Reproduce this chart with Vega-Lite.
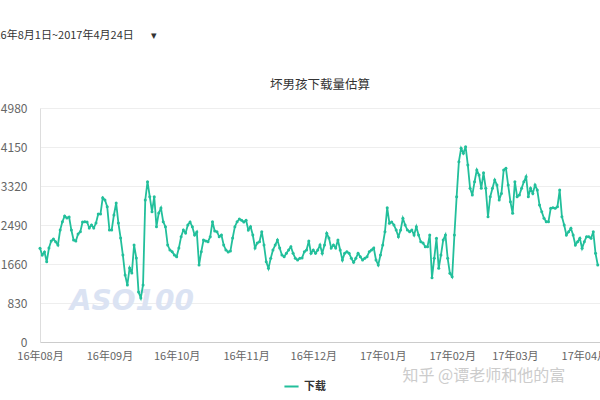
{
  "$schema": "https://vega.github.io/schema/vega-lite/v6.json",
  "width": 560,
  "height": 234,
  "autosize": {"type": "none"},
  "padding": {"left": 40, "top": 108, "right": 0, "bottom": 58},
  "background": "white",
  "title": {"text": "坏男孩下载量估算", "frame": "group", "anchor": "middle", "fontSize": 12.5, "fontWeight": "normal", "color": "#333333", "offset": 17, "dy": 79},
  "config": {
    "font": "Noto Sans CJK SC",
    "view": {"stroke": null}
  },
  "data": {"values": [
    {"date":"2016-08-01","downloads":1994},{"date":"2016-08-02","downloads":1851},{"date":"2016-08-03","downloads":1915},{"date":"2016-08-04","downloads":1709},{"date":"2016-08-05","downloads":2000},{"date":"2016-08-06","downloads":2150},{"date":"2016-08-07","downloads":2190},{"date":"2016-08-08","downloads":2135},{"date":"2016-08-09","downloads":2065},{"date":"2016-08-10","downloads":2383},{"date":"2016-08-11","downloads":2560},{"date":"2016-08-12","downloads":2680},{"date":"2016-08-13","downloads":2640},{"date":"2016-08-14","downloads":2660},{"date":"2016-08-15","downloads":2383},{"date":"2016-08-16","downloads":2170},{"date":"2016-08-17","downloads":2150},{"date":"2016-08-18","downloads":2300},{"date":"2016-08-19","downloads":2347},{"date":"2016-08-20","downloads":2553},{"date":"2016-08-21","downloads":2560},{"date":"2016-08-22","downloads":2553},{"date":"2016-08-23","downloads":2426},{"date":"2016-08-24","downloads":2490},{"date":"2016-08-25","downloads":2426},{"date":"2016-08-26","downloads":2532},{"date":"2016-08-27","downloads":2724},{"date":"2016-08-28","downloads":2724},{"date":"2016-08-29","downloads":3070},{"date":"2016-08-30","downloads":3022},{"date":"2016-08-31","downloads":2880},
    {"date":"2016-09-01","downloads":2383},{"date":"2016-09-02","downloads":2383},{"date":"2016-09-03","downloads":2703},{"date":"2016-09-04","downloads":2958},{"date":"2016-09-05","downloads":2532},{"date":"2016-09-06","downloads":2213},{"date":"2016-09-07","downloads":1851},{"date":"2016-09-08","downloads":1426},{"date":"2016-09-09","downloads":1213},{"date":"2016-09-10","downloads":1575},{"date":"2016-09-11","downloads":1468},{"date":"2016-09-12","downloads":2064},{"date":"2016-09-13","downloads":1788},{"date":"2016-09-14","downloads":1064},{"date":"2016-09-15","downloads":936},{"date":"2016-09-16","downloads":1213},{"date":"2016-09-17","downloads":3022},{"date":"2016-09-18","downloads":3411},{"date":"2016-09-19","downloads":3092},{"date":"2016-09-20","downloads":2773},{"date":"2016-09-21","downloads":3092},{"date":"2016-09-22","downloads":2454},{"date":"2016-09-23","downloads":2745},{"date":"2016-09-24","downloads":2851},{"date":"2016-09-25","downloads":2560},{"date":"2016-09-26","downloads":2454},{"date":"2016-09-27","downloads":2064},{"date":"2016-09-28","downloads":1958},{"date":"2016-09-29","downloads":1922},{"date":"2016-09-30","downloads":1851},
    {"date":"2016-10-01","downloads":1815},{"date":"2016-10-02","downloads":2000},{"date":"2016-10-03","downloads":2241},{"date":"2016-10-04","downloads":2383},{"date":"2016-10-05","downloads":2320},{"date":"2016-10-06","downloads":2490},{"date":"2016-10-07","downloads":2553},{"date":"2016-10-08","downloads":2454},{"date":"2016-10-09","downloads":2277},{"date":"2016-10-10","downloads":2340},{"date":"2016-10-11","downloads":1639},{"date":"2016-10-12","downloads":1922},{"date":"2016-10-13","downloads":2170},{"date":"2016-10-14","downloads":2150},{"date":"2016-10-15","downloads":2135},{"date":"2016-10-16","downloads":2241},{"date":"2016-10-17","downloads":2560},{"date":"2016-10-18","downloads":2362},{"date":"2016-10-19","downloads":2347},{"date":"2016-10-20","downloads":2241},{"date":"2016-10-21","downloads":2277},{"date":"2016-10-22","downloads":2064},{"date":"2016-10-23","downloads":1958},{"date":"2016-10-24","downloads":1915},{"date":"2016-10-25","downloads":1936},{"date":"2016-10-26","downloads":2213},{"date":"2016-10-27","downloads":2454},{"date":"2016-10-28","downloads":2560},{"date":"2016-10-29","downloads":2617},{"date":"2016-10-30","downloads":2590},{"date":"2016-10-31","downloads":2553},
    {"date":"2016-11-01","downloads":2590},{"date":"2016-11-02","downloads":2383},{"date":"2016-11-03","downloads":2454},{"date":"2016-11-04","downloads":2277},{"date":"2016-11-05","downloads":2000},{"date":"2016-11-06","downloads":2107},{"date":"2016-11-07","downloads":2135},{"date":"2016-11-08","downloads":2347},{"date":"2016-11-09","downloads":2064},{"date":"2016-11-10","downloads":1709},{"date":"2016-11-11","downloads":1568},{"date":"2016-11-12","downloads":1780},{"date":"2016-11-13","downloads":1958},{"date":"2016-11-14","downloads":2064},{"date":"2016-11-15","downloads":2170},{"date":"2016-11-16","downloads":2000},{"date":"2016-11-17","downloads":1851},{"date":"2016-11-18","downloads":1815},{"date":"2016-11-19","downloads":1887},{"date":"2016-11-20","downloads":1958},{"date":"2016-11-21","downloads":2029},{"date":"2016-11-22","downloads":1887},{"date":"2016-11-23","downloads":1780},{"date":"2016-11-24","downloads":1745},{"date":"2016-11-25","downloads":1780},{"date":"2016-11-26","downloads":1790},{"date":"2016-11-27","downloads":1922},{"date":"2016-11-28","downloads":1958},{"date":"2016-11-29","downloads":2150},{"date":"2016-11-30","downloads":1887},
    {"date":"2016-12-01","downloads":1958},{"date":"2016-12-02","downloads":1887},{"date":"2016-12-03","downloads":1958},{"date":"2016-12-04","downloads":2064},{"date":"2016-12-05","downloads":1887},{"date":"2016-12-06","downloads":2064},{"date":"2016-12-07","downloads":2313},{"date":"2016-12-08","downloads":2213},{"date":"2016-12-09","downloads":2000},{"date":"2016-12-10","downloads":2064},{"date":"2016-12-11","downloads":2000},{"date":"2016-12-12","downloads":2170},{"date":"2016-12-13","downloads":1958},{"date":"2016-12-14","downloads":1745},{"date":"2016-12-15","downloads":1887},{"date":"2016-12-16","downloads":1922},{"date":"2016-12-17","downloads":1887},{"date":"2016-12-18","downloads":1780},{"date":"2016-12-19","downloads":1695},{"date":"2016-12-20","downloads":1780},{"date":"2016-12-21","downloads":1887},{"date":"2016-12-22","downloads":1815},{"date":"2016-12-23","downloads":1745},{"date":"2016-12-24","downloads":1780},{"date":"2016-12-25","downloads":1815},{"date":"2016-12-26","downloads":1922},{"date":"2016-12-27","downloads":1958},{"date":"2016-12-28","downloads":2000},{"date":"2016-12-29","downloads":1745},{"date":"2016-12-30","downloads":1639},{"date":"2016-12-31","downloads":1851},
    {"date":"2017-01-01","downloads":2064},{"date":"2017-01-02","downloads":2347},{"date":"2017-01-03","downloads":2858},{"date":"2017-01-04","downloads":2525},{"date":"2017-01-05","downloads":2553},{"date":"2017-01-06","downloads":2490},{"date":"2017-01-07","downloads":2383},{"date":"2017-01-08","downloads":2241},{"date":"2017-01-09","downloads":2383},{"date":"2017-01-10","downloads":2632},{"date":"2017-01-11","downloads":2490},{"date":"2017-01-12","downloads":2383},{"date":"2017-01-13","downloads":2347},{"date":"2017-01-14","downloads":2383},{"date":"2017-01-15","downloads":2277},{"date":"2017-01-16","downloads":2454},{"date":"2017-01-17","downloads":2277},{"date":"2017-01-18","downloads":2135},{"date":"2017-01-19","downloads":2107},{"date":"2017-01-20","downloads":2029},{"date":"2017-01-21","downloads":2029},{"date":"2017-01-22","downloads":2277},{"date":"2017-01-23","downloads":1369},{"date":"2017-01-24","downloads":1780},{"date":"2017-01-25","downloads":2206},{"date":"2017-01-26","downloads":1568},{"date":"2017-01-27","downloads":1851},{"date":"2017-01-28","downloads":2170},{"date":"2017-01-29","downloads":2277},{"date":"2017-01-30","downloads":1780},{"date":"2017-01-31","downloads":1461},
    {"date":"2017-02-01","downloads":1390},{"date":"2017-02-02","downloads":2277},{"date":"2017-02-03","downloads":3092},{"date":"2017-02-04","downloads":3837},{"date":"2017-02-05","downloads":4122},{"date":"2017-02-06","downloads":4015},{"date":"2017-02-07","downloads":4157},{"date":"2017-02-08","downloads":3766},{"date":"2017-02-09","downloads":3270},{"date":"2017-02-10","downloads":3128},{"date":"2017-02-11","downloads":3411},{"date":"2017-02-12","downloads":3660},{"date":"2017-02-13","downloads":3554},{"date":"2017-02-14","downloads":3270},{"date":"2017-02-15","downloads":3600},{"date":"2017-02-16","downloads":3270},{"date":"2017-02-17","downloads":2667},{"date":"2017-02-18","downloads":3092},{"date":"2017-02-19","downloads":3270},{"date":"2017-02-20","downloads":3447},{"date":"2017-02-21","downloads":3341},{"date":"2017-02-22","downloads":3022},{"date":"2017-02-23","downloads":3163},{"date":"2017-02-24","downloads":3660},{"date":"2017-02-25","downloads":3696},{"date":"2017-02-26","downloads":3341},{"date":"2017-02-27","downloads":2986},{"date":"2017-02-28","downloads":2738},
    {"date":"2017-03-01","downloads":3411},{"date":"2017-03-02","downloads":3092},{"date":"2017-03-03","downloads":3128},{"date":"2017-03-04","downloads":3270},{"date":"2017-03-05","downloads":3411},{"date":"2017-03-06","downloads":3518},{"date":"2017-03-07","downloads":3092},{"date":"2017-03-08","downloads":3270},{"date":"2017-03-09","downloads":3163},{"date":"2017-03-10","downloads":3341},{"date":"2017-03-11","downloads":3234},{"date":"2017-03-12","downloads":2915},{"date":"2017-03-13","downloads":2773},{"date":"2017-03-14","downloads":2632},{"date":"2017-03-15","downloads":2560},{"date":"2017-03-16","downloads":2560},{"date":"2017-03-17","downloads":2845},{"date":"2017-03-18","downloads":2858},{"date":"2017-03-19","downloads":2845},{"date":"2017-03-20","downloads":2880},{"date":"2017-03-21","downloads":3234},{"date":"2017-03-22","downloads":2667},{"date":"2017-03-23","downloads":2490},{"date":"2017-03-24","downloads":2277},{"date":"2017-03-25","downloads":2347},{"date":"2017-03-26","downloads":2419},{"date":"2017-03-27","downloads":2277},{"date":"2017-03-28","downloads":2064},{"date":"2017-03-29","downloads":2135},{"date":"2017-03-30","downloads":2206},{"date":"2017-03-31","downloads":1994},
    {"date":"2017-04-01","downloads":2135},{"date":"2017-04-02","downloads":2241},{"date":"2017-04-03","downloads":2241},{"date":"2017-04-04","downloads":2206},{"date":"2017-04-05","downloads":2347},{"date":"2017-04-06","downloads":1887},{"date":"2017-04-07","downloads":1639}
  ]},
  "encoding": {
    "x": {
      "field": "date",
      "type": "temporal",
      "scale": {"type": "utc", "domain": [{"year": 2016, "month": 8, "date": 1, "utc": true}, {"year": 2017, "month": 4, "date": 8, "utc": true}]},
      "axis": {
        "values": [
          {"year": 2016, "month": 8, "date": 1, "utc": true},
          {"year": 2016, "month": 9, "date": 1, "utc": true},
          {"year": 2016, "month": 10, "date": 1, "utc": true},
          {"year": 2016, "month": 11, "date": 1, "utc": true},
          {"year": 2016, "month": 12, "date": 1, "utc": true},
          {"year": 2017, "month": 1, "date": 1, "utc": true},
          {"year": 2017, "month": 2, "date": 1, "utc": true},
          {"year": 2017, "month": 3, "date": 1, "utc": true},
          {"year": 2017, "month": 4, "date": 1, "utc": true}
        ],
        "labelExpr": "utcFormat(datum.value, '%y年%m月')",
        "labelOverlap": false,
        "labelFlush": false,
        "labelBound": false,
        "grid": false,
        "ticks": false,
        "domainColor": "#cccccc",
        "labelColor": "#666666",
        "labelFontSize": 11,
        "labelPadding": 8,
        "title": "知乎 @谭老师和他的富",
        "titleX": 362,
        "titleY": 33,
        "titleAlign": "left",
        "titleBaseline": "middle",
        "titleFontSize": 16,
        "titleFontWeight": "normal",
        "titleColor": "#cccccc"
      }
    },
    "y": {
      "field": "downloads",
      "type": "quantitative",
      "scale": {"domain": [0, 4980], "nice": false},
      "axis": {
        "values": [0, 830, 1660, 2490, 3320, 4150, 4980],
        "format": "d",
        "labelOverlap": false,
        "grid": true,
        "gridColor": "#eeeeee",
        "domainColor": "#dddddd",
        "ticks": false,
        "labelPadding": 13,
        "labelFontSize": 12,
        "labelColor": "#666666",
        "title": "16年8月1日~2017年4月24日\u00a0\u00a0\u00a0\u00a0\u00a0\u00a0\u00a0▾",
        "titleAngle": 0,
        "titleAlign": "left",
        "titleBaseline": "middle",
        "titleX": -46,
        "titleY": -73,
        "titleFontSize": 11,
        "titleFontWeight": "normal",
        "titleColor": "#333333"
      }
    }
  },
  "layer": [
    {
      "data": {"values": [{"date": "2016-09-11", "downloads": 850, "label": "ASO100"}]},
      "mark": {"type": "text", "fontSize": 28, "fontStyle": "italic", "fontWeight": "bold", "color": "#dbe3f3", "align": "center", "baseline": "middle", "font": "DejaVu Sans"},
      "encoding": {
        "text": {"field": "label"}
      }
    },
    {
      "mark": {"type": "line", "strokeWidth": 1.8, "point": {"filled": true, "size": 9}},
      "encoding": {
        "color": {
          "datum": "下载",
          "type": "nominal",
          "scale": {"range": ["#22bf9b"]},
          "legend": {
            "orient": "none",
            "legendX": 243,
            "legendY": 270,
            "title": null,
            "symbolType": "stroke",
            "symbolSize": 200,
            "symbolStrokeWidth": 2,
            "labelFontSize": 11,
            "labelFontWeight": "bold",
            "labelColor": "#333333",
            "labelOffset": 4
          }
        }
      }
    }
  ]
}
